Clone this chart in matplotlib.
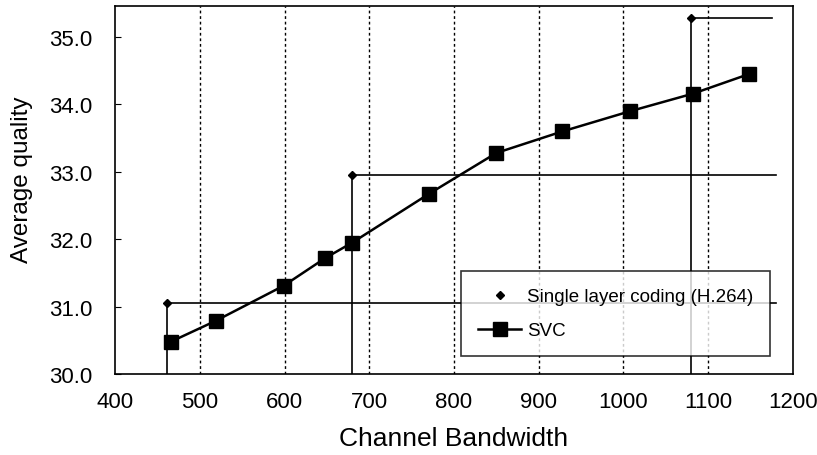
import matplotlib.pyplot as plt

# single layer coding (H.264): step points
single_x = [461, 680, 1080]
single_y = [31.05, 32.95, 35.28]
single_end = [1180, 1180, 1175]

# SVC curve
svc_x = [466, 519, 599, 648, 680, 770, 850, 928, 1008, 1082, 1148]
svc_y = [30.48, 30.79, 31.31, 31.72, 31.95, 32.67, 33.28, 33.6, 33.9, 34.16, 34.45]

xticks = [400, 500, 600, 700, 800, 900, 1000, 1100, 1200]
yticks = [30.0, 31.0, 32.0, 33.0, 34.0, 35.0]

plt.rcParams['font.family'] = 'Liberation Sans'
fig = plt.figure(figsize=(8.17, 4.56), dpi=100)
ax = fig.add_axes([0.1408, 0.1776, 0.8298, 0.807])

for x in xticks[1:-1]:
    ax.axvline(x, color='black', lw=1, ls=(0, (2, 2)), zorder=1)

for i in range(len(single_x)):
    ax.plot([single_x[i], single_x[i]], [30.0, single_y[i]], color='black', lw=1.2, zorder=2)
    ax.plot([single_x[i], single_end[i]], [single_y[i], single_y[i]], color='black', lw=1.2, zorder=2)
ax.plot(single_x, single_y, ls='none', marker='D', ms=4, color='black', zorder=3,
        label='Single layer coding (H.264)')

ax.plot(svc_x, svc_y, color='black', lw=1.8, marker='s', ms=10, zorder=4, label='SVC')

ax.set_xlim(400, 1200)
ax.set_ylim(30.0, 35.46)
ax.set_xticks(xticks)
ax.set_yticks(yticks)
ax.set_yticklabels(['%.1f' % v for v in yticks])
ax.tick_params(axis='x', length=0, pad=12, labelsize=16)
ax.tick_params(axis='y', direction='in', length=4, pad=16, labelsize=16)
for s in ax.spines.values():
    s.set_linewidth(1.2)

ax.set_xlabel('Channel Bandwidth', fontsize=19, labelpad=10)
ax.set_ylabel('Average quality', fontsize=17.5)
ax.yaxis.set_label_coords(-0.121, 0.53)

leg = ax.legend(loc='lower right', bbox_to_anchor=(0.966, 0.049), borderaxespad=0,
                fontsize=13.5, frameon=True, fancybox=False, edgecolor='black',
                borderpad=0.9, labelspacing=0.9, handlelength=2.3, handletextpad=0.3)
leg.get_frame().set_linewidth(1.2)
leg.set_zorder(5)

fig.savefig('out.png', dpi=100)
